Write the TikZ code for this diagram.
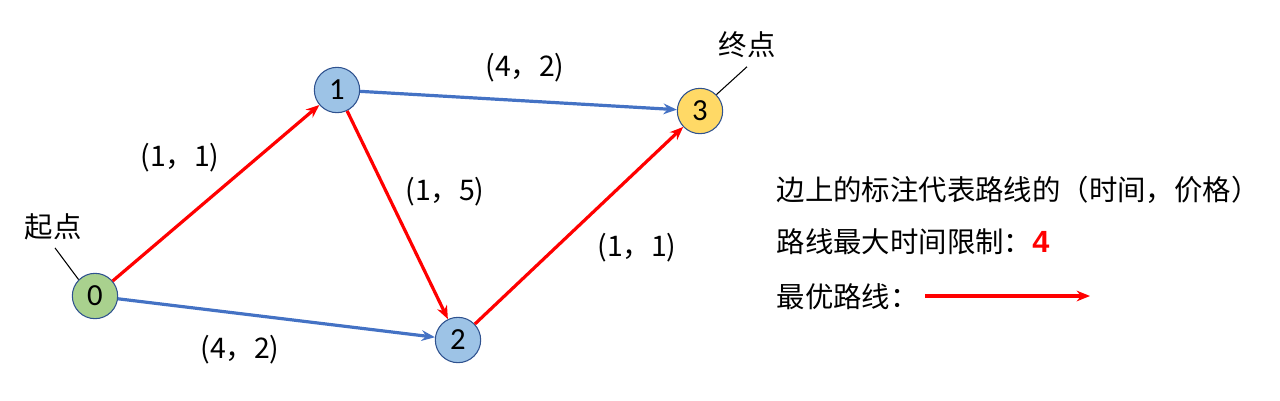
\documentclass[tikz,border=0pt]{standalone}
\usepackage{fontspec}
\setmainfont{Carlito}
\newfontfamily\cjk{Noto Sans CJK SC}
\newfontfamily\arialfont{Liberation Sans}
\usepackage{xcolor}
\usetikzlibrary{arrows.meta}

\definecolor{nodegreen}{HTML}{A9D18E}
\definecolor{nodeblue}{HTML}{9DC3E6}
\definecolor{nodeyellow}{HTML}{FFD966}
\definecolor{rimblue}{HTML}{2F528F}
\definecolor{edgeblue}{HTML}{4472C4}

\begin{document}
\begin{tikzpicture}[x=0.75pt, y=-0.75pt, >={Stealth[length=10pt, width=8pt]},
    vertex/.style={circle, draw=rimblue, line width=0.8pt, minimum size=34pt, inner sep=0pt, font=\fontsize{23}{27}\selectfont},
    best/.style={->, red, line width=2.4pt},
    other/.style={->, edgeblue, line width=2.4pt},
    tag/.style={font=\cjk\fontsize{21.3}{25}\selectfont}]
    \useasboundingbox (0,0) rectangle (1280,400);
    % Graph vertices
    \node[vertex, fill=nodegreen] (v0) at (95,296) {0};
    \node[vertex, fill=nodeblue] (v1) at (337,90) {1};
    \node[vertex, fill=nodeblue] (v2) at (458,340) {2};
    \node[vertex, fill=nodeyellow] (v3) at (700,111) {3};
%
    % Edges with (time, price)
    \draw[best] (v0) -- (v1);
    \draw[best] (v1) -- (v2);
    \draw[best] (v2) -- (v3);
    \draw[other] (v0) -- (v2);
    \draw[other] (v1) -- (v3);
    \node[tag] (t01) at (180,158) {(1，1)};
    \node[tag] (t12) at (445,192) {(1，5)};
    \node[tag] (t23) at (637,248) {(1，1)};
    \node[tag] (t02) at (240,350) {(4，2)};
    \node[tag] (t13) at (525,68) {(4，2)};
%
    % Start and end markers
    \node[tag] (start) at (53,227) {起点};
    \node[tag] (goal) at (747,45) {终点};
    \draw[line width=0.8pt] (start.south) ++(2,3) coordinate (s0) -- (v0.north west);
    \draw[line width=0.8pt] (goal.south) ++(0,4) coordinate (g0) -- (v3.north east);
%
    % Legend
    \node[tag, anchor=west] (leg1) at (772,190) {边上的标注代表路线的（时间，价格）};
    \node[tag, anchor=west] (leg2) at (772,242) {路线最大时间限制：\textcolor{red}{\arialfont\bfseries\fontsize{23}{27}\selectfont 4}};
    \node[tag, anchor=west] (leg3) at (772,297) {最优路线：};
    \coordinate (a0) at (925,296);
    \coordinate (a1) at (1090,296);
    \draw[best] (a0) -- (a1);
\end{tikzpicture}
\end{document}
